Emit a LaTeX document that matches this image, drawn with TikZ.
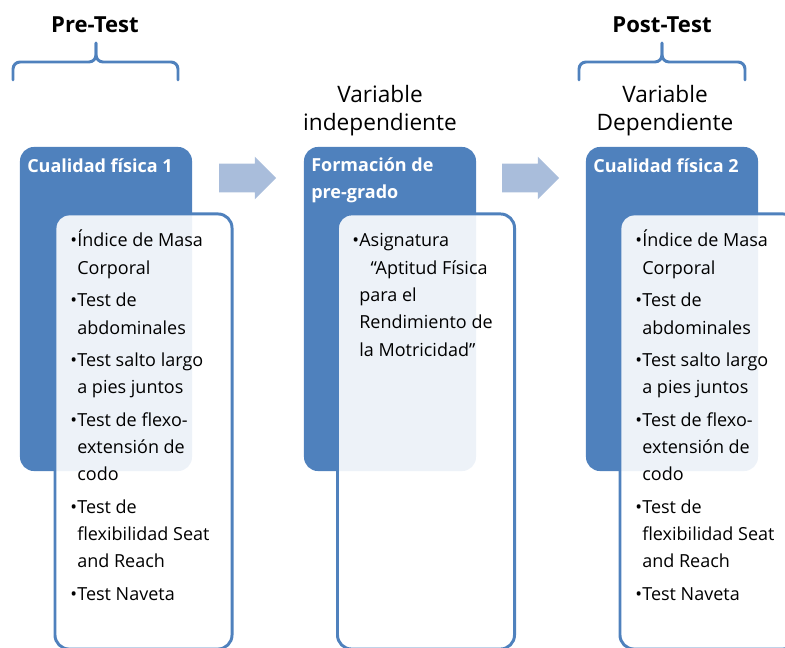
\documentclass[tikz,border=0pt]{standalone}
\usepackage{fontspec}
\setmainfont{Open Sans}
\usetikzlibrary{shapes.arrows}
\definecolor{boxblue}{RGB}{79,129,189}
\definecolor{arrowblue}{RGB}{169,189,219}
\newcommand{\bul}{\makebox[5pt][l]{•}}
\newcommand{\ind}{\hspace*{5pt}}
\newcommand{\lst}[1]{\begin{tabular}[t]{@{}l@{}}#1\end{tabular}}

\begin{document}
\begin{tikzpicture}[x=0.025cm,y=-0.025cm,
  bluebox/.style={fill=boxblue,rounded corners=10pt,minimum width=4.3cm,minimum height=8.1cm,inner sep=0},
  innerbox/.style={fill=white,fill opacity=0.9,draw=boxblue,line width=2.1pt,rounded corners=10pt,minimum width=4.425cm,minimum height=10.875cm,inner sep=0},
  headtext/.style={text=white,anchor=base west,align=left,inner sep=0,font=\fontsize{12.8}{19.2}\selectfont\bfseries},
  itemlist/.style={anchor=base west,inner sep=0,font=\fontsize{12.8}{19.4}\selectfont},
  titletext/.style={font=\fontsize{15.7}{20}\selectfont\bfseries},
  vartext/.style={align=center,font=\fontsize{16.1}{19.9}\selectfont},
  blockarrow/.style={single arrow,fill=arrowblue,inner xsep=0,inner ysep=0.35cm,minimum height=1.425cm,single arrow head extend=0.175cm},
  bracepath/.style={draw=boxblue,line width=2.1pt,rounded corners=5pt,line cap=round}]
\useasboundingbox (0,0) rectangle (785,648);
\clip (0,0) rectangle (785,648);
% titles and braces
\node[titletext] (pre) at (95,25) {Pre-Test};
\node[titletext] (post) at (662,25) {Post-Test};
\draw[bracepath] (13,80) -- (13,62) -- (96,62) -- (96,43);
\draw[bracepath] (96,43) -- (96,62) -- (178,62) -- (178,80);
\draw[bracepath] (579,80) -- (579,62) -- (662,62) -- (662,43);
\draw[bracepath] (662,43) -- (662,62) -- (745,62) -- (745,80);
\node[vartext] (vind) at (380,111) {Variable\\independiente};
\node[vartext] (vdep) at (665,111) {Variable\\Dependiente};
% blue boxes
\node[bluebox] (cf1) at (106,309) {};
\node[bluebox] (fp) at (390,309) {};
\node[bluebox] (cf2) at (672,309) {};
\node[headtext] (h1) at (27,173) {Cualidad física 1};
\node[headtext] (h2) at (311,199) {Formación de\\pre-grado};
\node[headtext] (h3) at (593,173) {Cualidad física 2};
% inner boxes
\node[innerbox] (in1) at (143.5,431.5) {};
\node[innerbox] (in2) at (426,431.5) {};
\node[innerbox] (in3) at (708.5,431.5) {};
\node[itemlist] (l1) at (70,247) {\lst{\bul Índice de Masa\\\ind Corporal\\[3.7pt]
  \bul Test de\\\ind abdominales\\[3.7pt]
  \bul Test salto largo\\\ind a pies juntos\\[3.7pt]
  \bul Test de flexo-\\\ind extensión de\\\ind codo\\[3.7pt]
  \bul Test de\\\ind flexibilidad Seat\\\ind and Reach\\[3.7pt]
  \bul Test Naveta}};
\node[itemlist] (l2) at (352,247) {\lst{\bul Asignatura\\\ind\hspace*{8pt}“Aptitud Física\\\ind para el\\\ind Rendimiento de\\\ind la Motricidad”}};
\node[itemlist] (l3) at (635,247) {\lst{\bul Índice de Masa\\\ind Corporal\\[3.7pt]
  \bul Test de\\\ind abdominales\\[3.7pt]
  \bul Test salto largo\\\ind a pies juntos\\[3.7pt]
  \bul Test de flexo-\\\ind extensión de\\\ind codo\\[3.7pt]
  \bul Test de\\\ind flexibilidad Seat\\\ind and Reach\\[3.7pt]
  \bul Test Naveta}};
% arrows
\node[blockarrow] (a1) at (240.5,178) {};
\node[blockarrow] (a2) at (523.5,178) {};
\end{tikzpicture}
\end{document}
